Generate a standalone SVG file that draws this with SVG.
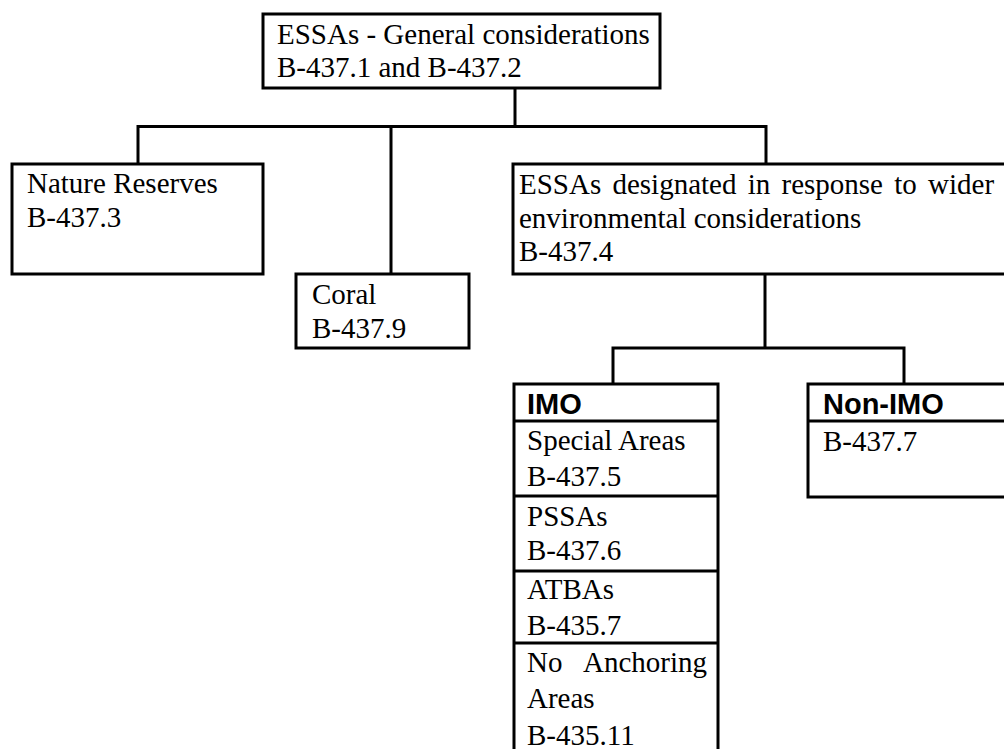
<svg xmlns="http://www.w3.org/2000/svg" width="1004" height="749" viewBox="0 0 1004 749">
<style>
.box{fill:#fff;stroke:#000;stroke-width:3}
.ln{fill:none;stroke:#000;stroke-width:3}
.t{font-family:"Liberation Serif","Times New Roman",serif;font-size:29px;fill:#000}
.h{font-family:"Liberation Sans",Arial,sans-serif;font-size:29px;font-weight:bold;fill:#000}
</style>
<rect width="1004" height="749" fill="#fff"/>
<g id="connectors">
<path class="ln" d="M515 88V126.5M138 164V126.5H766V164M391 126.5V274"/>
<path class="ln" d="M765 274V348M613 384V348H904V384"/>
</g>
<g id="top">
<rect class="box" x="263" y="14" width="397" height="74"/>
<text class="t" x="277" y="44">ESSAs - General considerations</text>
<text class="t" x="277" y="77">B-437.1 and B-437.2</text>
</g>
<g id="nature">
<rect class="box" x="12" y="164" width="251" height="110"/>
<text class="t" x="27" y="193">Nature Reserves</text>
<text class="t" x="27" y="227">B-437.3</text>
</g>
<g id="coral">
<rect class="box" x="296" y="274" width="173" height="74"/>
<text class="t" x="312" y="304">Coral</text>
<text class="t" x="312" y="338">B-437.9</text>
</g>
<g id="wider">
<rect class="box" x="513" y="164" width="500" height="110"/>
<text class="t" x="519" y="194" word-spacing="4">ESSAs designated in response to wider</text>
<text class="t" x="519" y="228">environmental considerations</text>
<text class="t" x="519" y="261">B-437.4</text>
</g>
<g id="imo">
<rect class="box" x="514" y="384" width="204" height="380"/>
<path class="ln" d="M514 421H718M514 496H718M514 571H718M514 643H718"/>
<text class="h" x="527" y="414">IMO</text>
<text class="t" x="527" y="450">Special Areas</text>
<text class="t" x="527" y="486">B-437.5</text>
<text class="t" x="527" y="526">PSSAs</text>
<text class="t" x="527" y="560">B-437.6</text>
<text class="t" x="527" y="599">ATBAs</text>
<text class="t" x="527" y="635">B-435.7</text>
<text class="t" x="527" y="672">No</text>
<text class="t" x="583" y="672">Anchoring</text>
<text class="t" x="527" y="708">Areas</text>
<text class="t" x="527" y="745">B-435.11</text>
</g>
<g id="nonimo">
<rect class="box" x="808" y="384" width="210" height="113"/>
<path class="ln" d="M808 421H1010"/>
<text class="h" x="823" y="414">Non-IMO</text>
<text class="t" x="823" y="451">B-437.7</text>
</g>
</svg>
